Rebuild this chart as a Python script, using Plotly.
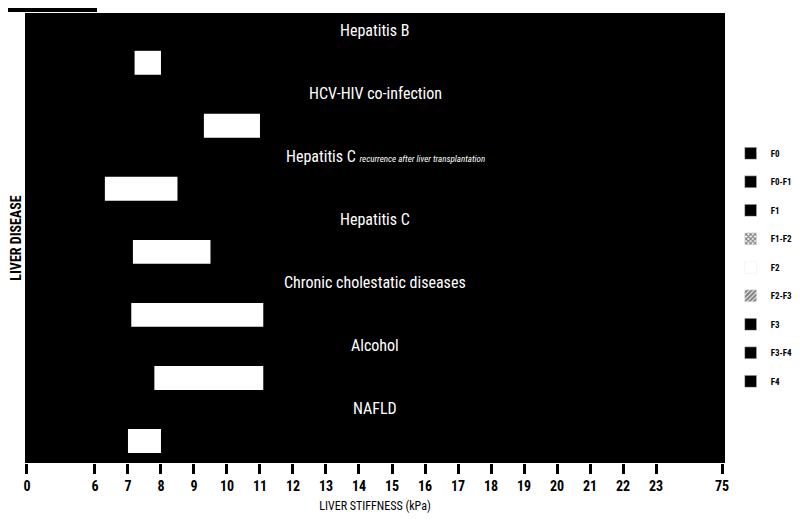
import plotly.graph_objects as go

# ---- data (liver stiffness ranges, kPa) ----
diseases = [
    "Hepatitis B",
    "HCV-HIV co-infection",
    "Hepatitis C recurrence after liver transplantation",
    "Hepatitis C",
    "Chronic cholestatic diseases",
    "Alcohol",
    "NAFLD",
]
range_low = [7.2, 9.3, 6.3, 7.15, 7.1, 7.8, 7.0]
range_high = [8.0, 11.0, 8.5, 9.5, 11.1, 11.1, 8.0]

tick_labels = ["0", "6", "7", "8", "9", "10", "11", "12", "13", "14", "15",
               "16", "17", "18", "19", "20", "21", "22", "23", "75"]
# axis is broken: "0" and "75" are placeholders drawn at the ends
tick_positions = [3.94, 6, 7, 8, 9, 10, 11, 12, 13, 14, 15,
                  16, 17, 18, 19, 20, 21, 22, 23, 25.0]

stages = ["F0", "F0-F1", "F1", "F1-F2", "F2", "F2-F3", "F3", "F3-F4", "F4"]

FONT = "Roboto Condensed, Liberation Sans Narrow, Lato, sans-serif"

widths = [h - l for l, h in zip(range_low, range_high)]

fig = go.Figure()
fig.add_trace(go.Bar(
    y=diseases, x=widths, base=range_low, orientation="h",
    marker=dict(color="white", line=dict(width=0)),
    width=0.38, offset=0.33, showlegend=False, hoverinfo="skip",
))

# legend entries (stages)
stage_styles = {
    "F1-F2": dict(color="white", pattern=dict(shape="x", fgcolor="black", size=4, solidity=0.6)),
    "F2": dict(color="rgba(255,255,255,0)"),
    "F2-F3": dict(color="white", pattern=dict(shape="/", fgcolor="black", size=4, solidity=0.7)),
}
for s in stages:
    m = stage_styles.get(s, dict(color="black"))
    fig.add_trace(go.Bar(
        y=[None], x=[None], orientation="h", name=s, legendgroup=s,
        marker=m, showlegend=True,
    ))

# in-plot disease labels
for d in diseases:
    txt = d
    xshift = 0
    if d.startswith("Hepatitis C recurrence"):
        txt = ("Hepatitis C <i><span style='font-size:9px'>recurrence after liver "
               "transplantation</span></i>")
        xshift = 10
    fig.add_annotation(
        x=0.5, xref="paper", y=d, yref="y", text=txt, showarrow=False,
        xshift=xshift,
        font=dict(family=FONT, size=16, color="white"),
    )

# header tag at top-left (cut off in the source)
fig.add_shape(type="rect", xref="paper", yref="paper",
              x0=-0.03, x1=(89 - 17) / 700, y0=1 + 1 / 450, y1=1 + 5 / 450,
              fillcolor="black", line=dict(width=0), layer="above")

fig.update_layout(
    width=795, height=511,
    margin=dict(l=17, r=78, t=5, b=56, autoexpand=False),
    paper_bgcolor="white", plot_bgcolor="black",
    barmode="overlay",
    font=dict(family=FONT, color="black"),
    legend=dict(
        xref="container", yref="container",
        x=0.909, y=0.744, xanchor="left", yanchor="top",
        itemwidth=30,
        font=dict(family=FONT, size=9, color="black", weight="bold"),
        tracegroupgap=9.5, bgcolor="rgba(0,0,0,0)",
    ),
    xaxis=dict(
        range=[3.88, 25.09], tickmode="array",
        tickvals=tick_positions, ticktext=tick_labels,
        ticks="outside", ticklen=10, tickwidth=2.5, tickcolor="black",
        tickfont=dict(family=FONT, size=14, color="black", weight="bold"),
        showgrid=False, zeroline=False, showline=False, automargin=False,
        title=dict(text="LIVER STIFFNESS (kPa)", standoff=8,
                   font=dict(family=FONT, size=12, color="black")),
    ),
    yaxis=dict(
        categoryorder="array", categoryarray=diseases,
        range=[6.87, -0.27],
        showticklabels=False, showgrid=False, zeroline=False, ticks="",
        automargin=False,
        title=dict(text="<b>LIVER DISEASE</b>", standoff=0,
                   font=dict(family=FONT, size=14, color="black")),
    ),
)

fig.write_html("out.html")
